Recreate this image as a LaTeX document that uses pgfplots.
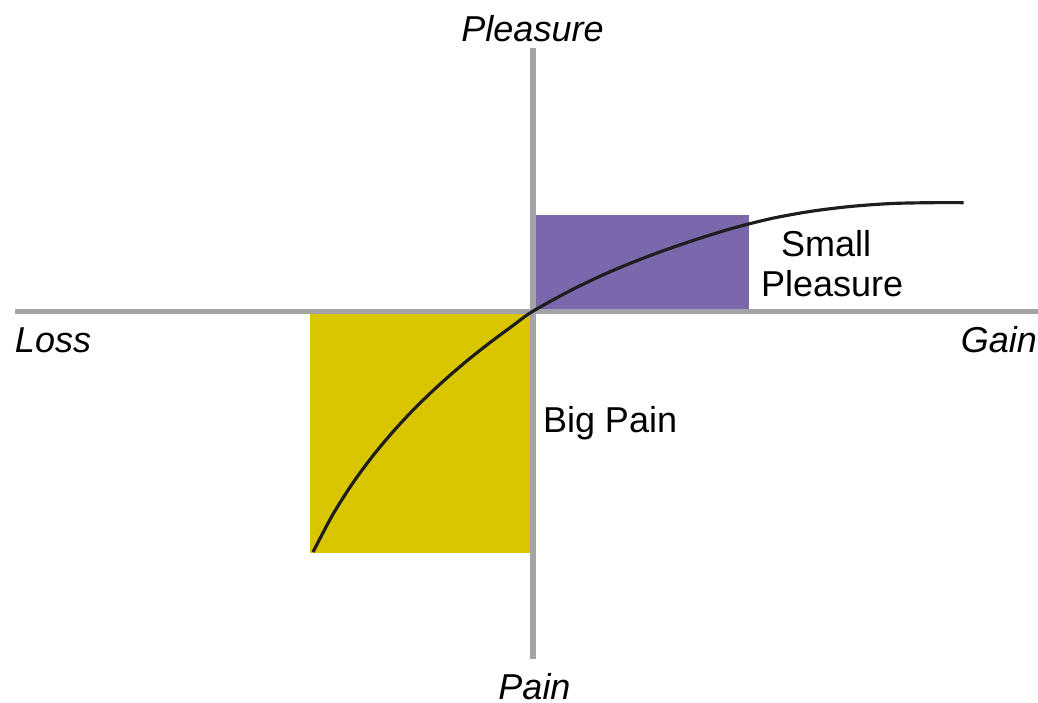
\documentclass[border=0pt]{standalone}
\usepackage{pgfplots}
\pgfplotsset{compat=1.18}
\usepackage{fontspec}
\setmainfont{Liberation Sans}
\definecolor{axgray}{RGB}{163,163,168}
\definecolor{pleas}{RGB}{123,103,172}
\definecolor{painy}{RGB}{218,198,0}
\definecolor{curve}{RGB}{30,30,30}
\tikzset{lbl/.style={inner sep=0pt, outer sep=0pt, font=\fontsize{10.8}{13}\selectfont}}
\begin{document}
\begin{tikzpicture}
\begin{axis}[
    width=311.4pt, height=210.9pt,
    scale only axis,
    hide axis,
    clip=false,
    xmin=-532.5, xmax=505.5,
    ymin=-391.5, ymax=311.5,
]
% shaded boxes
\addplot[draw=none, fill=pleas] coordinates {(0,0)(216.5,0)(216.5,96.5)(0,96.5)} -- cycle;
\addplot[draw=none, fill=painy] coordinates {(-222.5,0)(0,0)(0,-241.5)(-222.5,-241.5)} -- cycle;
% the two axes
\addplot[axgray, line width=1.65pt] coordinates {(-517.5,0)(505.5,0)};
\addplot[axgray, line width=1.8pt] coordinates {(0,263.5)(0,-347.5)};
% value function
\addplot[curve, line width=0.95pt, smooth] coordinates {
  (-219.5,-240.6)(-200,-203.6)(-180,-172.0)(-160,-144.8)(-140,-120.8)
  (-120,-99.2)(-100,-79.6)(-80,-61.6)(-60,-44.8)(-40,-29.2)(-20,-14.4)
  (0,0)(40,22.0)(80,40.8)(120,56.8)(160,70.8)(200,83.2)(240,93.2)
  (280,100.4)(320,105.2)(360,108.0)(400,108.8)(431,108.8)};
% labels
\node[lbl, anchor=base] at (axis cs:0,269.5) {\itshape Pleasure};
\node[lbl, anchor=base] at (axis cs:2,-388.5) {\itshape Pain};
\node[lbl, anchor=base west] at (axis cs:-517.5,-41.5) {\itshape Loss};
\node[lbl, anchor=base east] at (axis cs:504.5,-41.5) {\itshape Gain};
\node[lbl, anchor=base west] at (axis cs:248.5,54.5) {Small};
\node[lbl, anchor=base west] at (axis cs:228.5,14.5) {Pleasure};
\node[lbl, anchor=base west] at (axis cs:10.5,-121.5) {Big Pain};
\end{axis}
\pgfresetboundingbox
\path (current axis.south west) rectangle (current axis.north east);
\end{tikzpicture}
\end{document}
